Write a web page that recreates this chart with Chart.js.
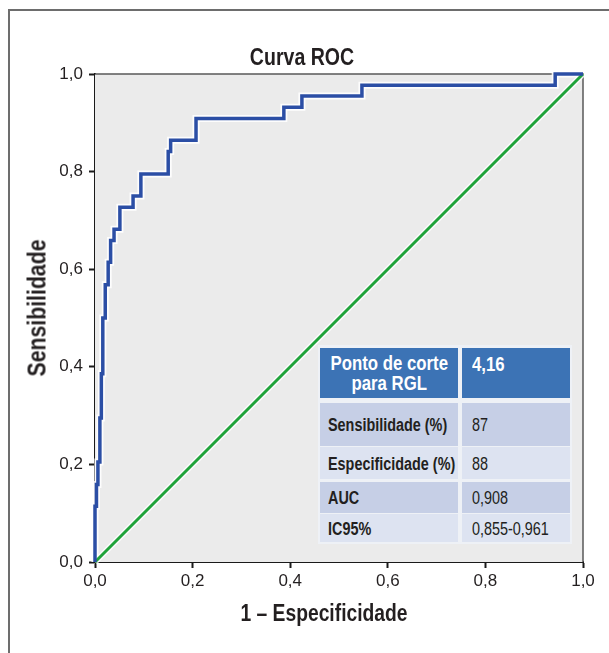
<!DOCTYPE html>
<html><head><meta charset="utf-8">
<script src="https://cdn.jsdelivr.net/npm/chart.js@4.4.1/dist/chart.umd.min.js"></script>
<style>
body{margin:0;background:#fff;width:609px;height:653px;overflow:hidden;position:relative;font-family:'Liberation Sans',Arial,sans-serif;color:#231f20;}
#frame{position:absolute;left:8px;top:9px;width:700px;height:700px;border-left:2px solid #6d6d6d;border-top:2px solid #6d6d6d;}
#c{position:absolute;left:0;top:0;}
.t{position:absolute;font-weight:bold;white-space:nowrap;line-height:1;}
#tbl{position:absolute;left:318px;top:345px;width:254px;height:199px;background:#eef1f6;}
.cell{position:absolute;display:flex;align-items:center;font-size:18px;white-space:nowrap;box-sizing:border-box;}
.sx{display:inline-block;transform:scaleX(0.8);transform-origin:left center;}
.sxc{display:inline-block;transform:scaleX(0.86);transform-origin:center center;}
</style>
</head><body>
<div id="frame"></div>
<canvas id="c" width="609" height="653"></canvas>
<div class="t" id="title" style="left:302px;top:57px;transform:translate(-50%,-50%) scaleX(0.85);font-size:23px;">Curva ROC</div>
<div class="t" id="ytitle" style="left:37px;top:308px;transform:translate(-50%,-50%) rotate(-90deg) scaleX(0.85);font-size:25px;">Sensibilidade</div>
<div class="t" id="xtitle" style="left:324px;top:614px;transform:translate(-50%,-50%) scaleX(0.82);font-size:23.5px;">1 – Especificidade</div>
<div id="tbl"></div>
<script>
// ROC curve (1 - specificity, sensitivity), step corners
const fpr = [0, 0, 0.003, 0.006, 0.010, 0.013, 0.016, 0.021, 0.027, 0.032, 0.039, 0.051, 0.078, 0.094, 0.150, 0.155, 0.207, 0.387, 0.424, 0.547, 0.943, 1.0];
const tpr = [0, 0.114, 0.159, 0.205, 0.295, 0.386, 0.500, 0.568, 0.614, 0.659, 0.682, 0.727, 0.750, 0.795, 0.841, 0.864, 0.909, 0.932, 0.955, 0.977, 1.0, 1.0];
// reference diagonal
const diagX = [0, 1];
const diagY = [0, 1];
// axis ticks
const tickValues = [0, 0.2, 0.4, 0.6, 0.8, 1.0];
const tickLabels = ['0,0', '0,2', '0,4', '0,6', '0,8', '1,0'];
// table
const tableHeader = ['Ponto de corte<br>para RGL', '4,16'];
const tableLabels = ['Sensibilidade (%)', 'Especificidade (%)', 'AUC', 'IC95%'];
const tableValues = ['87', '88', '0,908', '0,855-0,961'];

const rocPts = fpr.map((x, i) => ({x, y: tpr[i]}));
const diagPts = diagX.map((x, i) => ({x, y: diagY[i]}));

const bgPlugin = {
  id: 'bg',
  beforeDatasetsDraw(chart) {
    const {ctx, chartArea: a} = chart;
    ctx.save();
    ctx.fillStyle = '#ebebeb';
    ctx.fillRect(a.left, a.top, a.right - a.left, a.bottom - a.top);
    ctx.strokeStyle = '#5a5a5a';
    ctx.lineWidth = 1.5;
    ctx.beginPath();
    ctx.moveTo(a.left, a.top);
    ctx.lineTo(a.right, a.top);
    ctx.lineTo(a.right, a.bottom);
    ctx.stroke();
    ctx.restore();
  }
};

const tickFont = {family: "'Liberation Sans',Arial,sans-serif", size: 17};
function axis(pad, fit) {
  return {
    type: 'linear', min: 0, max: 1,
    afterBuildTicks: s => { s.ticks = tickValues.map(v => ({value: v})); },
    ticks: {callback: (v, i) => tickLabels[i], font: tickFont, color: '#231f20', autoSkip: false, maxRotation: 0, padding: pad},
    grid: {drawOnChartArea: false, drawTicks: true, tickLength: 6, tickWidth: 2, tickColor: '#1a1a1a'},
    border: {display: true, color: '#1a1a1a', width: 2},
    title: {display: false},
    afterFit: fit
  };
}

new Chart(document.getElementById('c'), {
  type: 'scatter',
  data: {
    datasets: [
      {data: rocPts, showLine: true, stepped: 'before', borderColor: '#2b4ea5', borderWidth: 3.5, pointRadius: 0, clip: false, order: 1},
      {data: diagPts, showLine: true, borderColor: '#1fa33a', borderWidth: 3, pointRadius: 0, clip: false, order: 2},
      {data: rocPts, showLine: true, stepped: 'before', borderColor: 'rgba(255,255,255,0.9)', borderWidth: 7, pointRadius: 0, clip: false, order: 3},
      {data: diagPts, showLine: true, borderColor: 'rgba(255,255,255,0.8)', borderWidth: 6, pointRadius: 0, clip: false, order: 4}
    ]
  },
  options: {
    responsive: false, animation: false,
    layout: {padding: {left: 0, top: 74, right: 26, bottom: 0}},
    plugins: {legend: {display: false}, tooltip: {enabled: false}, title: {display: false}},
    scales: {
      x: axis(3, s => { s.height = 91; }),
      y: axis(6, s => { s.width = 95; })
    }
  },
  plugins: [bgPlugin]
});

// table
const tbl = document.getElementById('tbl');
const rowTops = [3, 58, 102, 137, 169];
const rowHeights = [50, 43, 32, 31, 28];
const leftX = 2, leftW = 138, rightX = 144, rightW = 108;
function cell(x, y, w, h, bg, html, css) {
  const d = document.createElement('div');
  d.className = 'cell';
  d.style.cssText += `left:${x}px;top:${y}px;width:${w}px;height:${h}px;background:${bg};` + (css || '');
  d.innerHTML = html;
  tbl.appendChild(d);
}
cell(leftX, rowTops[0], leftW, rowHeights[0], '#3c73b5', `<span class="sxc">${tableHeader[0]}</span>`, 'justify-content:center;text-align:center;color:#fff;font-weight:bold;line-height:20px;font-size:19.5px;');
cell(rightX, rowTops[0], rightW, rowHeights[0], '#3c73b5', `<span class="sx" style="transform:scaleX(0.86)">${tableHeader[1]}</span>`, 'align-items:flex-start;padding:5px 0 0 10px;color:#fff;font-weight:bold;font-size:19.5px;');
tableLabels.forEach((lab, i) => {
  const bg = i % 2 === 0 ? '#c6cfe6' : '#dde3f1';
  const y = rowTops[i + 1], h = rowHeights[i + 1];
  cell(leftX, y, leftW, h, bg, `<span class="sx">${lab}</span>`, 'padding:2px 0 0 8px;font-weight:bold;');
  cell(rightX, y, rightW, h, bg, `<span class="sx">${tableValues[i]}</span>`, 'padding:2px 0 0 10px;');
});
</script>
</body></html>
